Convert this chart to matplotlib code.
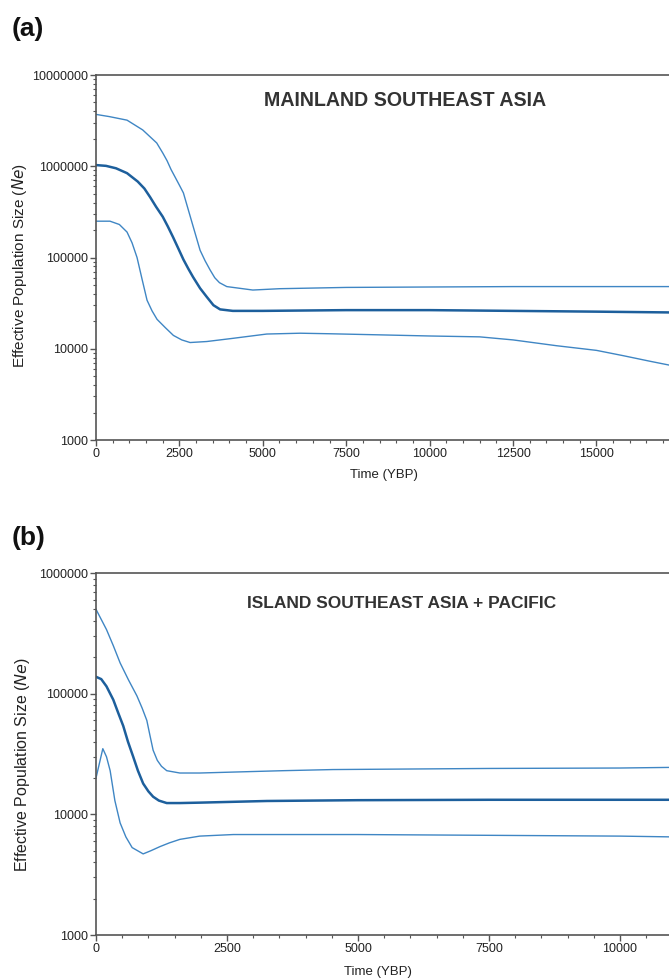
import numpy as np
import matplotlib
matplotlib.use('Agg')
import matplotlib.pyplot as plt
from matplotlib.ticker import LogLocator, MultipleLocator, NullFormatter

plt.rcParams['font.family'] = ['Liberation Sans', 'DejaVu Sans']

# ---- panel (a): mainland southeast asia ----
ta_med = [0, 300, 600, 930, 1250, 1450, 1620, 1800, 2000, 2150, 2310, 2470, 2620, 2770,
          2910, 3120, 3320, 3520, 3720, 4100, 5000, 7500, 10000, 12500, 15000, 17200]
na_med = [1.03e6, 1.01e6, 9.5e5, 8.4e5, 6.8e5, 5.7e5, 4.6e5, 3.6e5, 2.8e5, 2.2e5, 1.67e5,
          1.25e5, 9.5e4, 7.5e4, 6.1e4, 4.6e4, 3.7e4, 3.0e4, 2.7e4, 2.6e4, 2.6e4, 2.65e4,
          2.65e4, 2.6e4, 2.55e4, 2.5e4]

ta_up = [0, 400, 930, 1400, 1820, 2000, 2130, 2250, 2380, 2500, 2620, 2770, 2910, 3120,
         3270, 3420, 3560, 3700, 3920, 4700, 5500, 7500, 10000, 12500, 15000, 17200]
na_up = [3.7e6, 3.5e6, 3.2e6, 2.5e6, 1.8e6, 1.4e6, 1.15e6, 9.2e5, 7.5e5, 6.2e5, 5.1e5,
         3.3e5, 2.2e5, 1.2e5, 9.2e4, 7.3e4, 6.0e4, 5.3e4, 4.8e4, 4.4e4, 4.55e4, 4.7e4,
         4.75e4, 4.8e4, 4.8e4, 4.8e4]

ta_lo = [0, 420, 700, 930, 1080, 1230, 1380, 1530, 1680, 1830, 2080, 2320, 2570, 2820,
         3320, 4100, 5120, 6120, 7000, 8500, 10000, 11500, 12500, 13800, 15000, 15800,
         16600, 17200]
na_lo = [2.5e5, 2.5e5, 2.3e5, 1.9e5, 1.45e5, 1.0e5, 5.8e4, 3.4e4, 2.6e4, 2.1e4, 1.7e4,
         1.4e4, 1.25e4, 1.17e4, 1.2e4, 1.3e4, 1.45e4, 1.48e4, 1.46e4, 1.42e4, 1.38e4,
         1.35e4, 1.25e4, 1.08e4, 9.6e3, 8.4e3, 7.3e3, 6.6e3]

# ---- panel (b): island southeast asia + pacific ----
tb_med = [0, 100, 200, 330, 420, 520, 610, 710, 800, 900, 1000, 1090, 1200, 1350, 1600,
          1980, 3260, 5000, 7500, 10000, 11000]
nb_med = [1.38e5, 1.32e5, 1.15e5, 8.9e4, 7.0e4, 5.4e4, 4.0e4, 3.0e4, 2.3e4, 1.8e4,
          1.55e4, 1.4e4, 1.3e4, 1.24e4, 1.24e4, 1.25e4, 1.29e4, 1.31e4, 1.32e4, 1.32e4,
          1.32e4]

tb_up = [0, 200, 330, 460, 620, 780, 880, 970, 1030, 1090, 1170, 1250, 1350, 1600, 1980,
         2620, 3570, 4520, 7500, 10000, 11000]
nb_up = [5.0e5, 3.4e5, 2.5e5, 1.8e5, 1.3e5, 9.6e4, 7.6e4, 6.0e4, 4.5e4, 3.4e4, 2.8e4,
         2.5e4, 2.3e4, 2.2e4, 2.2e4, 2.24e4, 2.3e4, 2.35e4, 2.4e4, 2.42e4, 2.45e4]

tb_lo = [0, 130, 200, 270, 360, 460, 570, 690, 900, 1050, 1220, 1400, 1600, 1980, 2620,
         5000, 7500, 10000, 11000]
nb_lo = [2.0e4, 3.5e4, 3.0e4, 2.3e4, 1.3e4, 8.5e3, 6.5e3, 5.3e3, 4.7e3, 5.0e3, 5.4e3,
         5.8e3, 6.2e3, 6.6e3, 6.8e3, 6.8e3, 6.7e3, 6.6e3, 6.5e3]

dark = '#1d5f9c'
light = '#3f86c4'
spine = '#555555'

fig = plt.figure(figsize=(6.69, 9.8), dpi=100)


def style_axes(ax, xmax, ymin, ymax, xmaj):
    ax.set_yscale('log')
    ax.set_xlim(0, xmax)
    ax.set_ylim(ymin, ymax)
    ax.spines['right'].set_visible(False)
    for s in ['left', 'bottom', 'top']:
        ax.spines[s].set_color(spine)
        ax.spines[s].set_linewidth(1.2)
    ax.xaxis.set_major_locator(MultipleLocator(xmaj))
    ax.xaxis.set_minor_locator(MultipleLocator(500))
    ax.yaxis.set_major_locator(LogLocator(base=10, numticks=20))
    ax.yaxis.set_minor_locator(LogLocator(base=10, subs=np.arange(2, 10), numticks=20))
    ax.yaxis.set_minor_formatter(NullFormatter())
    ax.yaxis.set_major_formatter(plt.FuncFormatter(lambda v, p: '%d' % round(v)))
    ax.tick_params(axis='both', which='major', direction='out', length=4, width=1,
                   color=spine, labelsize=9, labelcolor='#222222', pad=2)
    ax.tick_params(axis='both', which='minor', direction='out', length=2, width=0.8,
                   color=spine)
    ax.tick_params(axis='x', which='both', top=False)


# panel (a)
ax1 = fig.add_axes([96 / 669, 1 - 440 / 980, 1 - 96 / 669, 365 / 980])
ax1.plot(ta_up, na_up, c=light, lw=1.0)
ax1.plot(ta_lo, na_lo, c=light, lw=1.0)
ax1.plot(ta_med, na_med, c=dark, lw=1.8)
style_axes(ax1, 17175, 1e3, 1e7, 2500)
ax1.set_ylabel('Effective Population Size ($\\it{Ne}$)', fontsize=11, color='#222222')
ax1.yaxis.set_label_coords(-0.117, 0.477)
ax1.set_xlabel('Time (YBP)', fontsize=9.5, color='#222222')
ax1.xaxis.set_label_coords((384 - 96) / 573, -0.079)
fig.text(405 / 669, 1 - 101 / 980, 'MAINLAND SOUTHEAST ASIA', ha='center', va='center',
         fontsize=14.1, fontweight='bold', color='#333333')
fig.text(12 / 669, 1 - 29 / 980, '(a)', ha='left', va='center', fontsize=19,
         fontweight='bold', color='#111111')

# panel (b)
ax2 = fig.add_axes([96 / 669, 1 - 935 / 980, 1 - 96 / 669, 362 / 980])
ax2.plot(tb_up, nb_up, c=light, lw=1.0)
ax2.plot(tb_lo, nb_lo, c=light, lw=1.0)
ax2.plot(tb_med, nb_med, c=dark, lw=1.8)
style_axes(ax2, 10935, 1e3, 1e6, 2500)
ax2.set_ylabel('Effective Population Size ($\\it{Ne}$)', fontsize=11.5, color='#222222')
ax2.yaxis.set_label_coords(-0.112, 0.47)
ax2.set_xlabel('Time (YBP)', fontsize=9.5, color='#222222')
ax2.xaxis.set_label_coords((378 - 96) / 573, -0.086)
fig.text(402 / 669, 1 - 603 / 980, 'ISLAND SOUTHEAST ASIA + PACIFIC', ha='center',
         va='center', fontsize=12.5, fontweight='bold', color='#333333')
fig.text(12 / 669, 1 - 538 / 980, '(b)', ha='left', va='center', fontsize=19,
         fontweight='bold', color='#111111')

fig.savefig('out.png', dpi=100)
